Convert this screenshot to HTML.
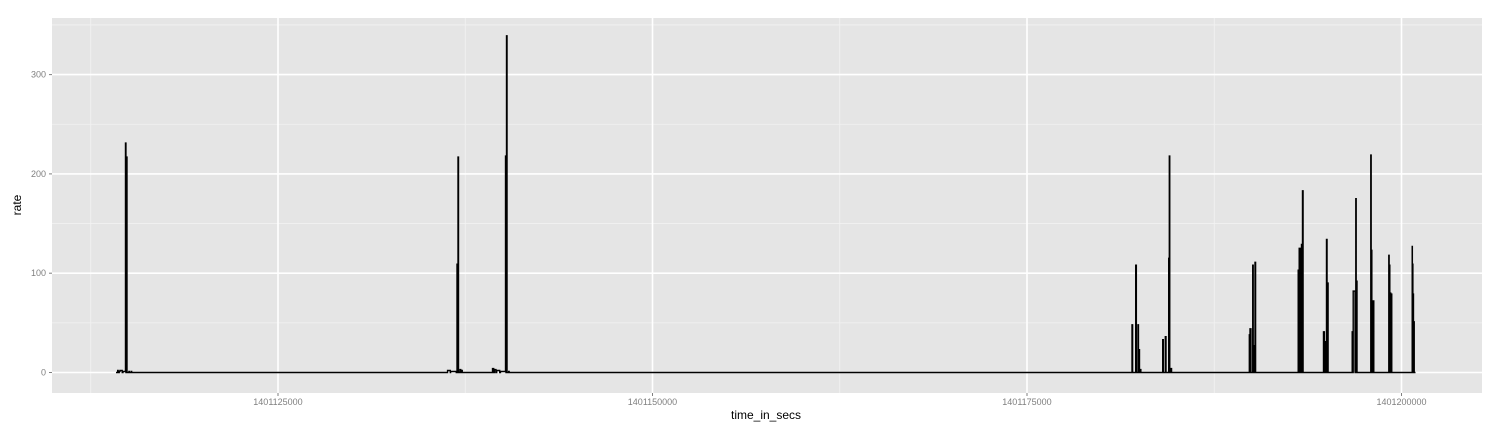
<!DOCTYPE html>
<html><head><meta charset="utf-8"><style>
html,body{margin:0;padding:0;background:#fff;}
svg{display:block;font-family:"Liberation Sans",sans-serif;}
</style></head><body>
<svg id="chart" width="1500" height="432" viewBox="0 0 1500 432" xmlns="http://www.w3.org/2000/svg">
<rect x="52" y="18" width="1430" height="375" fill="#e5e5e5"/>
<g id="grid"></g>
<g id="series"></g>
<g id="axes"></g>
<text x="766" y="419" font-size="12" text-anchor="middle" fill="#000">time_in_secs</text>
<text x="21" y="205" font-size="12" text-anchor="middle" fill="#000" transform="rotate(-90 21 205)">rate</text>
</svg>
<script>
const xTicks = [1401125000, 1401150000, 1401175000, 1401200000];
const xTickLabels = ["1401125000", "1401150000", "1401175000", "1401200000"];
const yTicks = [0, 100, 200, 300];
const yTickLabels = ["0", "100", "200", "300"];
const times = [
1401114185,1401114300,1401114330,1401114400,1401114450,1401114600,1401114650,1401114819,1401114850,1401114886,1401114920,1401115050,1401115080,1401115200,1401115230,1401115300,
1401136300,1401136320,1401136500,1401136520,1401136900,1401136950,1401136985,1401137017,1401137050,1401137150,1401137200,1401137250,1401137300,
1401139300,1401139320,1401139400,1401139450,1401139550,1401139600,1401139800,1401139850,1401140188,1401140220,1401140255,1401140290,1401140400,1401140430,
1401181950,1401182010,1401182050,1401182257,1401182300,1401182410,1401182440,1401182477,1401182510,1401182550,1401182600,
1401184000,1401184059,1401184100,1401184233,1401184280,1401184460,1401184480,1401184500,1401184530,1401184600,1401184650,
1401189800,1401189841,1401189860,1401189887,1401189950,1401190068,1401190100,1401190155,1401190190,1401190221,1401190260,1401190300,
1401193080,1401193104,1401193140,1401193170,1401193250,1401193324,1401193360,1401193391,1401193430,
1401194770,1401194793,1401194850,1401194906,1401194950,1401194993,1401195030,1401195060,1401195100,
1401196680,1401196709,1401196740,1401196776,1401196900,1401196949,1401196975,1401196996,1401197030,
1401197900,1401197950,1401197975,1401197997,1401198020,1401198044,1401198080,1401198111,1401198150,
1401199100,1401199152,1401199175,1401199199,1401199220,1401199246,1401199280,1401199312,1401199350,
1401200650,1401200714,1401200724,1401200734,1401200760,1401200781,1401200800,1401200821,1401200850,1401200935
];
const rates = [
0,2,0,1,2,0,1,231,0,217,0,1,0,1,0,0,
0,2,0,1,0,109,0,217,0,3,0,2,0,
0,4,0,3,0,2,0,1,218,0,339,0,1,0,
0,48,0,108,0,48,0,23,0,3,0,
0,33,0,36,0,115,0,218,0,4,0,
0,38,0,44,0,108,0,27,0,111,0,0,
0,103,0,125,0,129,0,183,0,
0,41,0,31,0,134,0,90,0,
0,41,0,82,0,175,0,92,0,
0,219,0,123,0,70,0,72,0,
0,118,0,108,0,80,0,79,0,
0,127,0,109,0,79,0,51,0,0
];
const NS = "http://www.w3.org/2000/svg";
const X0 = 52, X1 = 1482, Y0 = 18, Y1 = 393;
function xScale(t){ return 278 + (t - 1401125000) * 374.5 / 25000; }
function yScale(v){ return 372.5 - v * 0.993; }
function mk(tag, attrs, parent){ const e = document.createElementNS(NS, tag); for (const k in attrs) e.setAttribute(k, attrs[k]); parent.appendChild(e); return e; }
const grid = document.getElementById('grid');
const axes = document.getElementById('axes');
const xStep = xTicks[1]-xTicks[0];
for (let t = xTicks[0] - 1.5*xStep; t <= xTicks[xTicks.length-1] + 1.5*xStep; t += xStep) {
  const x = xScale(t); if (x < X0 || x > X1) continue;
  const l = mk('line', {x1:x, x2:x, y1:Y0, y2:Y1, stroke:'#f2f2f2', 'stroke-width':0.8}, grid);
  
  
}
const yStep = yTicks[1]-yTicks[0];
for (let v = yTicks[0] - 0.5*yStep; v <= yTicks[yTicks.length-1] + 0.5*yStep; v += yStep) {
  const y = yScale(v); if (y < Y0 || y > Y1) continue;
  const l = mk('line', {x1:X0, x2:X1, y1:y, y2:y, stroke:'#f2f2f2', 'stroke-width':0.8}, grid);
  
  
}
xTicks.forEach((t, i) => {
  const x = xScale(t);
  const g = mk('line', {x1:x, x2:x, y1:Y0, y2:Y1, stroke:'#ffffff', 'stroke-width':1.6}, grid);
  
  
  const tk = mk('line', {x1:x, x2:x, y1:Y1, y2:Y1+3, stroke:'#7f7f7f', 'stroke-width':1}, axes);
  
  
  const tx = mk('text', {x:x, y:Y1+12, 'font-size':9, 'text-anchor':'middle', fill:'#7f7f7f'}, axes);
  tx.textContent = xTickLabels[i];
  
  
});
yTicks.forEach((v, i) => {
  const y = yScale(v);
  const g = mk('line', {x1:X0, x2:X1, y1:y, y2:y, stroke:'#ffffff', 'stroke-width':1.6}, grid);
  
  
  const tk = mk('line', {x1:X0-3, x2:X0, y1:y, y2:y, stroke:'#7f7f7f', 'stroke-width':1}, axes);
  
  
  const tx = mk('text', {x:X0-6, y:y+3, 'font-size':9, 'text-anchor':'end', fill:'#7f7f7f'}, axes);
  tx.textContent = yTickLabels[i];
  
  
});
// step-style path: vertical at each sample, horizontal to next
let d = 'M' + xScale(times[0]).toFixed(2) + ',' + yScale(rates[0]).toFixed(2);
for (let i = 1; i < times.length; i++) {
  const x = xScale(times[i]).toFixed(2);
  d += ' L' + x + ',' + yScale(rates[i-1]).toFixed(2) + ' L' + x + ',' + yScale(rates[i]).toFixed(2);
}
const line = mk('path', {d:d, fill:'none', stroke:'#000', 'stroke-width':1.4, 'stroke-linejoin':'miter'}, document.getElementById('series'));


</script>
</body></html>
